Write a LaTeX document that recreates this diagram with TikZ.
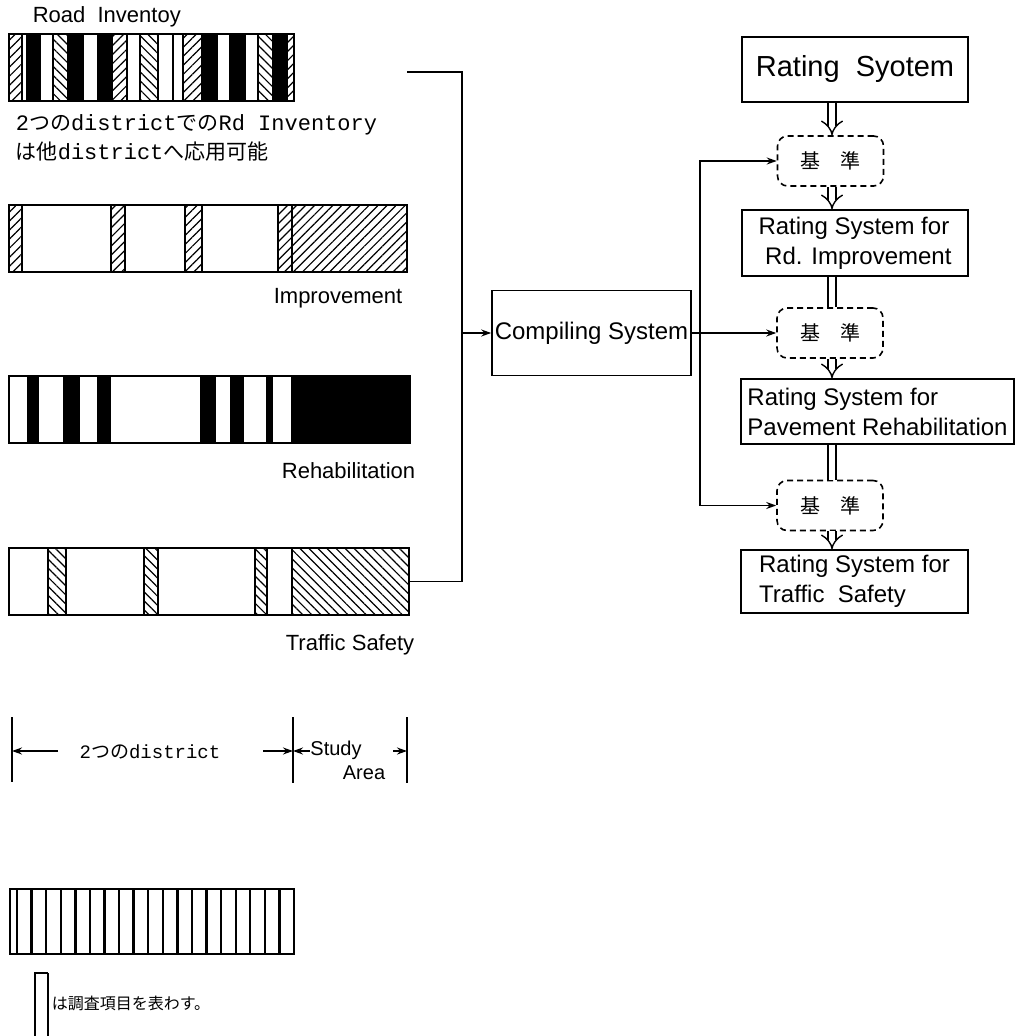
\documentclass[tikz,border=0pt]{standalone}
\usepackage{fontspec}
\newfontfamily\lsans{Liberation Sans}
\newfontfamily\cjk{Noto Sans CJK JP}
\newfontfamily\jmono{Liberation Mono}
\usetikzlibrary{arrows.meta,patterns.meta,fit}
\begin{document}
\begin{tikzpicture}[x=0.5pt,y=-0.5pt, line width=0.8pt,
 box/.style={draw, rectangle, inner sep=0pt, font=\lsans\fontsize{12}{15}\selectfont, align=left},
 kbox/.style={draw, dash pattern=on 3pt off 2pt, rounded corners=5pt, inner sep=0pt, minimum width=53pt, minimum height=25pt, font=\cjk\fontsize{10}{12}\selectfont},
 arr/.style={-{Stealth[length=5pt,width=3.5pt]}},
 dbl/.style={double, double distance=3.2pt, line width=0.7pt},
 dblh/.style={dbl, -{Implies}},
 hatchR/.style={pattern={Lines[angle=45,distance=3.2pt,line width=0.6pt]}},
 hatchL/.style={pattern={Lines[angle=-45,distance=3.2pt,line width=0.6pt]}},
 lbl/.style={font=\lsans\fontsize{11}{13}\selectfont, inner sep=0pt},
 barbox/.style={draw, inner sep=0pt},
]
\useasboundingbox (0,0) rectangle (1019,1036);

% ---------- Road inventory bar ----------
\node[lbl, anchor=west] (lroad) at (32,17) {Road\ \ Inventoy};
\foreach \a/\b in {9/22,112/127,183/202,287/294} \fill[hatchR] (\a,34) rectangle (\b,101);
\foreach \a/\b in {53/68,140/158,258/273} \fill[hatchL] (\a,34) rectangle (\b,101);
\foreach \a/\b in {27/40,68/83,98/112,202/217,230/245,273/287} \fill (\a,34) rectangle (\b,101);
\foreach \x in {22,27,40,53,68,83,98,112,127,140,158,173,183,202,217,230,245,258,273,287} \draw (\x,34) -- (\x,101);
\node[barbox, fit={(9,34)(294,101)}] (road) {};
\node[inner sep=0pt, anchor=west] (jp1) at (15,125) {{\jmono\fontsize{11}{13}\selectfont 2}{\cjk\fontsize{10.5}{13}\selectfont つの}{\jmono\fontsize{11}{13}\selectfont district}{\cjk\fontsize{10.5}{13}\selectfont での}{\jmono\fontsize{11}{13}\selectfont Rd Inventory}};
\node[inner sep=0pt, anchor=west] (jp2) at (15,152) {{\cjk\fontsize{10.5}{13}\selectfont は他}{\jmono\fontsize{11}{13}\selectfont district}{\cjk\fontsize{10.5}{13}\selectfont へ応用可能}};

% ---------- Improvement bar ----------
\foreach \a/\b in {9/22,111/125,185/202,278/407} \fill[hatchR] (\a,205) rectangle (\b,272);
\foreach \x in {22,111,125,185,202,278} \draw (\x,205) -- (\x,272);
\draw[line width=1.3pt] (292,205) -- (292,272);
\node[barbox, fit={(9,205)(407,272)}] (impr) {};
\node[lbl, anchor=east] (limpr) at (403,298) {Improvement};

% ---------- Rehabilitation bar ----------
\foreach \a/\b in {27/39,63/80,97/111,200/216,230/244,266/273,291/410} \fill (\a,376) rectangle (\b,443);
\node[barbox, fit={(9,376)(410,443)}] (rehab) {};
\node[lbl, anchor=east] (lrehab) at (416,471) {Rehabilitation};

% ---------- Traffic safety bar ----------
\foreach \a/\b in {48/66,144/158,255/267,292/409} \fill[hatchL] (\a,548) rectangle (\b,615);
\foreach \x in {48,66,144,158,255,267,292} \draw (\x,548) -- (\x,615);
\node[barbox, fit={(9,548)(409,615)}] (traf) {};
\node[lbl, anchor=east] (ltraf) at (415,645) {Traffic\ Safety};

% ---------- connectors to compiling system ----------
\coordinate (rdE) at (407,72);
\coordinate (jn) at (462,0);
\node[box, minimum width=99.5pt, minimum height=42.5pt, align=center] (comp) at (591.5,333) {Compiling System};
\draw (rdE) -- (rdE -| jn) -- (traf.east -| jn) -- (traf.east);
\draw[arr] (comp.west -| jn) -- (comp.west);

% ---------- right column ----------
\node[box, minimum width=113pt, minimum height=32.5pt, font=\lsans\fontsize{14.5}{16}\selectfont] (rs) at (855,69.5) {Rating\ \ Syotem};
\node[kbox] (k1) at (830.5,161) {基　準};
\node[box, minimum width=113pt, minimum height=33pt] (rsi) at (855,243) {Rating System for\\\ Rd. Improvement};
\node[kbox] (k2) at (830,333) {基　準};
\node[box, minimum width=136.5pt, minimum height=32.5pt] (rsp) at (877.5,411.5) {Rating System for\\Pavement Rehabilitation};
\node[kbox] (k3) at (830,505.5) {基　準};
\node[box, minimum width=113.5pt, minimum height=31.5pt] (rst) at (854.5,581.5) {Rating System for\\Traffic\ \ Safety};

\coordinate (ax) at (832,0);
\draw[dblh] (rs.south -| ax) -- (k1.north -| ax);
\draw[dblh] (k1.south -| ax) -- (rsi.north -| ax);
\draw[dbl] (rsi.south -| ax) -- (k2.north -| ax);
\draw[dblh] (k2.south -| ax) -- (rsp.north -| ax);
\draw[dbl] (rsp.south -| ax) -- (k3.north -| ax);
\draw[dblh] (k3.south -| ax) -- (rst.north -| ax);

\coordinate (vx) at (700,0);
\draw[arr] (comp.east) -- (k2.west);
\draw[{Stealth[length=5pt,width=3.5pt]}-{Stealth[length=5pt,width=3.5pt]}] (k1.west) -- (k1.west -| vx) -- (k3.west -| vx) -- (k3.west);

% ---------- dimension ----------
\coordinate (t1) at (12,717);
\coordinate (t2) at (293,717);
\coordinate (t3) at (407,717);
\draw[line width=1pt] (t1) -- ++(0,65);
\draw[line width=1pt] (t2) -- ++(0,66);
\draw[line width=1pt] (t3) -- ++(0,66);
\node[inner sep=0pt] (ldist) at (150,752) {{\jmono\fontsize{9.5}{11}\selectfont 2}{\cjk\fontsize{9.5}{11}\selectfont つの}{\jmono\fontsize{9.5}{11}\selectfont district}};
\draw[arr] (58,751) -- (t1 |- 0,751);
\draw[arr] (263,751) -- (t2 |- 0,751);
\draw[arr] (310,751) -- (t2 |- 0,751);
\draw[arr] (393,751) -- (t3 |- 0,751);
\node[lbl, font=\lsans\fontsize{10}{12}\selectfont] (lstudy) at (336,750) {Study};
\node[lbl, font=\lsans\fontsize{10}{12}\selectfont] (larea) at (364,773) {Area};

% ---------- legend ----------
\foreach \k in {0,...,18} \draw[line width=1.2pt] ({17+\k*14.58},889) -- ++(0,65);
\node[barbox, fit={(10,889)(294,954)}] (leg) {};
\draw (35,1036) -- (35,973) -- (48,973);
\draw[line width=1.3pt] (48,973) -- (48,1036);
\node[inner sep=0pt, anchor=west, font=\cjk\fontsize{8}{10}\selectfont] (legtxt) at (51,1003) {は調査項目を表わす。};
\end{tikzpicture}
\end{document}
